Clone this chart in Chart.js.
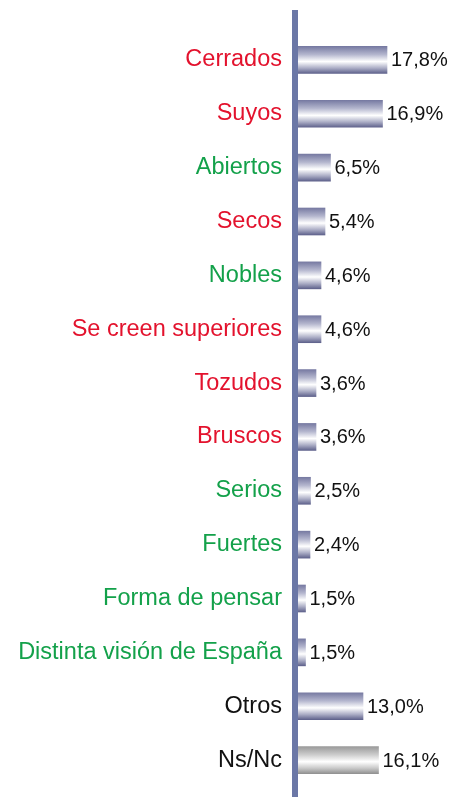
<!DOCTYPE html>
<html>
<head>
<meta charset="utf-8">
<script src="https://cdn.jsdelivr.net/npm/chart.js@4/dist/chart.umd.min.js"></script>
<style>
  html, body { margin: 0; padding: 0; background: #ffffff; }
  #wrap { width: 452px; height: 797px; position: relative; }
</style>
</head>
<body>
<div id="wrap"><canvas id="c"></canvas></div>
<script>
// Categories, percentages and label colours
const categories = [
  'Cerrados', 'Suyos', 'Abiertos', 'Secos', 'Nobles', 'Se creen superiores',
  'Tozudos', 'Bruscos', 'Serios', 'Fuertes', 'Forma de pensar',
  'Distinta visión de España', 'Otros', 'Ns/Nc'
];
const percentages = [17.8, 16.9, 6.5, 5.4, 4.6, 4.6, 3.6, 3.6, 2.5, 2.4, 1.5, 1.5, 13.0, 16.1];
const RED = '#e3122d', GREEN = '#13a14a', BLACK = '#111111';
const labelColors = [RED, RED, GREEN, RED, GREEN, RED, RED, RED, GREEN, GREEN, GREEN, GREEN, BLACK, BLACK];
// last bar is grey, the rest are navy cylinders
const barTones = ['navy','navy','navy','navy','navy','navy','navy','navy','navy','navy','navy','navy','navy','grey'];

const BAR_H = 27;

function barGradient(context) {
  const chart = context.chart;
  const yScale = chart.scales.y;
  if (!yScale || context.dataIndex === undefined) return '#8a8eb0';
  const cy = yScale.getPixelForValue(context.dataIndex);
  if (!isFinite(cy)) return '#8a8eb0';
  const top = cy - BAR_H / 2, bottom = cy + BAR_H / 2;
  const g = chart.ctx.createLinearGradient(0, top, 0, bottom);
  if (barTones[context.dataIndex] === 'grey') {
    g.addColorStop(0, '#9a9a9a');
    g.addColorStop(0.3, '#cccccc');
    g.addColorStop(0.56, '#ffffff');
    g.addColorStop(0.8, '#c9c9c9');
    g.addColorStop(1, '#929292');
  } else {
    g.addColorStop(0, '#777aa2');
    g.addColorStop(0.3, '#b4b6ce');
    g.addColorStop(0.56, '#ffffff');
    g.addColorStop(0.8, '#acaec6');
    g.addColorStop(1, '#5f628c');
  }
  return g;
}

// vertical axis bar running the full height
const axisLine = {
  id: 'axisLine',
  afterDatasetsDraw(chart) {
    const ctx = chart.ctx;
    const x = chart.chartArea.left;
    ctx.save();
    ctx.fillStyle = '#6b77a6';
    ctx.fillRect(x - 6, 10, 6, chart.height - 10);
    ctx.restore();
  }
};

// percentage text at the end of each bar
const valueLabels = {
  id: 'valueLabels',
  afterDatasetsDraw(chart) {
    const ctx = chart.ctx;
    const meta = chart.getDatasetMeta(0);
    ctx.save();
    ctx.font = '20px "Liberation Sans", Arial, sans-serif';
    ctx.fillStyle = '#111111';
    ctx.textAlign = 'left';
    ctx.textBaseline = 'middle';
    meta.data.forEach((bar, i) => {
      const txt = percentages[i].toFixed(1).replace('.', ',') + '%';
      ctx.fillText(txt, bar.x + 4, bar.y + 1);
    });
    ctx.restore();
  }
};

new Chart(document.getElementById('c'), {
  type: 'bar',
  data: {
    labels: categories,
    datasets: [{
      data: percentages,
      backgroundColor: barGradient,
      borderWidth: 0,
      barThickness: BAR_H
    }]
  },
  options: {
    indexAxis: 'y',
    responsive: true,
    maintainAspectRatio: false,
    animation: false,
    layout: { padding: { top: 33, bottom: 10, left: 0, right: 4 } },
    plugins: { legend: { display: false }, tooltip: { enabled: false } },
    scales: {
      x: { display: false, min: 0, max: 30 },
      y: {
        afterFit(scale) {
          scale.width = 298;
          scale.paddingTop = 0;
          scale.paddingBottom = 0;
        },
        grid: { display: false, drawTicks: false },
        border: { display: false },
        ticks: {
          padding: 16,
          color: (ctx) => labelColors[ctx.index],
          font: { family: '"Liberation Sans", Arial, sans-serif', size: 23.5 }
        }
      }
    }
  },
  plugins: [axisLine, valueLabels]
});
</script>
</body>
</html>
